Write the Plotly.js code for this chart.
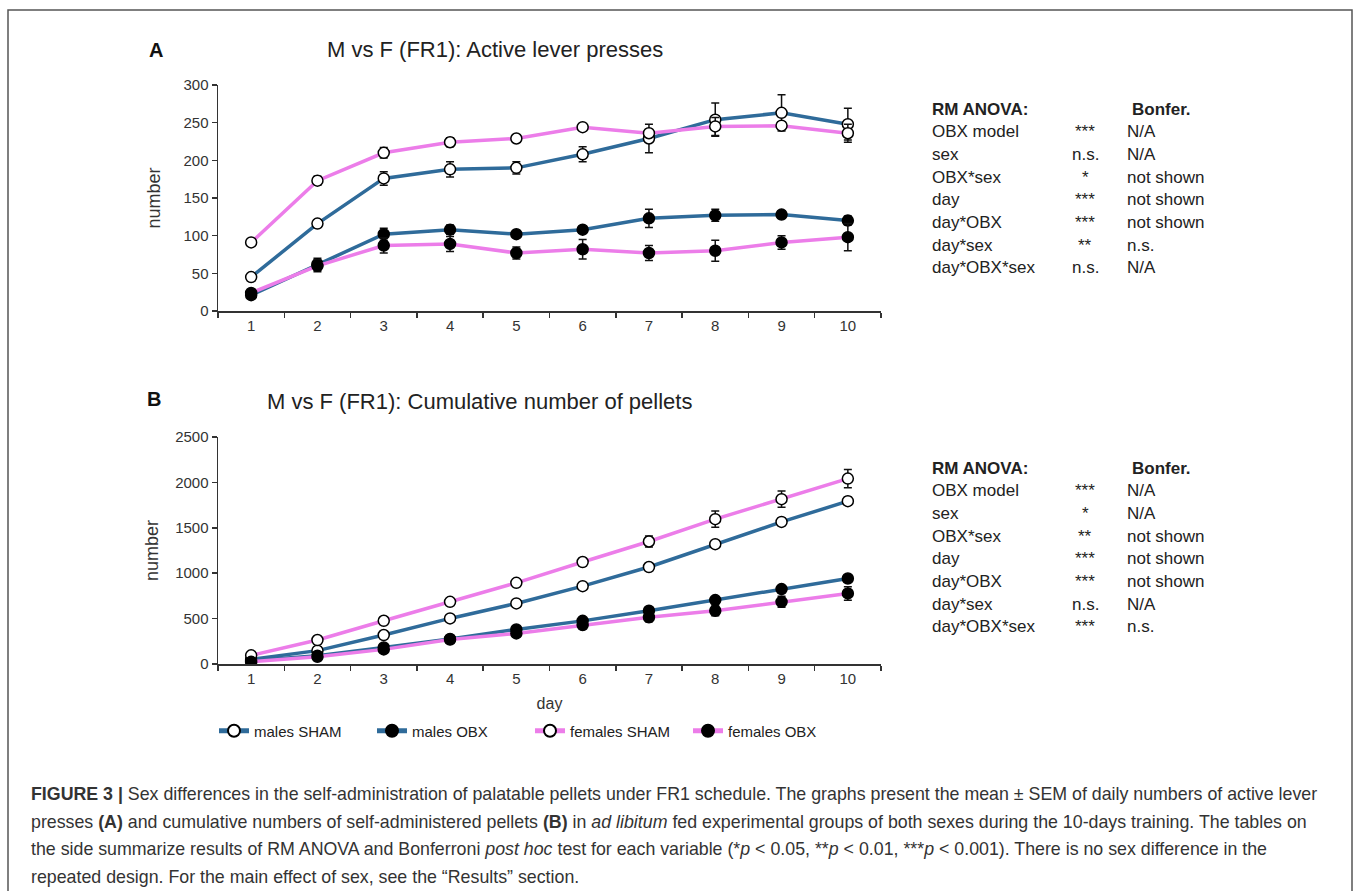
<!DOCTYPE html>
<html>
<head>
<meta charset="utf-8">
<script src="https://cdn.plot.ly/plotly-3.0.1.min.js"></script>
<style>
  html, body { margin: 0; padding: 0; background: #fff; }
  #chart { width: 1354px; height: 891px; }
</style>
</head>
<body>
<div id="chart"></div>
<script>
// ---- data ----
const days = ['1', '2', '3', '4', '5', '6', '7', '8', '9', '10'];
const seriesNames = ['males SHAM', 'males OBX', 'females SHAM', 'females OBX'];

// Panel A: active lever presses (mean, SEM)
const pressMalesSham      = [45, 116, 176, 188, 190, 208, 229, 254, 263, 248];
const pressMalesShamErr   = [3, 4, 9, 10, 8, 10, 19, 22, 24, 21];
const pressMalesObx       = [21, 62, 102, 108, 102, 108, 123, 127, 128, 120];
const pressMalesObxErr    = [3, 8, 8, 6, 4, 4, 12, 8, 5, 6];
const pressFemalesSham    = [91, 173, 210, 224, 229, 244, 236, 245, 246, 236];
const pressFemalesShamErr = [3, 6, 7, 6, 5, 3, 5, 12, 5, 12];
const pressFemalesObx     = [24, 60, 87, 89, 77, 82, 77, 80, 91, 98];
const pressFemalesObxErr  = [3, 8, 10, 10, 8, 13, 10, 14, 9, 18];

// Panel B: cumulative pellets (mean, SEM)
const pelMalesSham      = [50, 147, 319, 502, 667, 857, 1068, 1320, 1565, 1793];
const pelMalesShamErr   = [5, 8, 12, 15, 20, 25, 25, 25, 40, 45];
const pelMalesObx       = [35, 92, 183, 275, 381, 475, 586, 704, 825, 942];
const pelMalesObxErr    = [3, 8, 10, 12, 15, 15, 20, 20, 20, 25];
const pelFemalesSham    = [95, 264, 476, 685, 894, 1123, 1349, 1595, 1815, 2042];
const pelFemalesShamErr = [8, 15, 20, 20, 30, 40, 60, 90, 90, 100];
const pelFemalesObx     = [24, 80, 161, 270, 337, 429, 515, 586, 685, 777];
const pelFemalesObxErr  = [3, 8, 15, 20, 25, 30, 50, 55, 60, 75];

// Tables
const anovaRows   = ['OBX model', 'sex', 'OBX*sex', 'day', 'day*OBX', 'day*sex', 'day*OBX*sex'];
const anovaSigA   = ['***', 'n.s.', '*', '***', '***', '**', 'n.s.'];
const bonferA     = ['N/A', 'N/A', 'not shown', 'not shown', 'not shown', 'n.s.', 'N/A'];
const anovaSigB   = ['***', '*', '**', '***', '***', 'n.s.', '***'];
const bonferB     = ['N/A', 'N/A', 'not shown', 'not shown', 'not shown', 'N/A', 'n.s.'];

const captionLines = [
  '<b>FIGURE 3 |</b> Sex differences in the self-administration of palatable pellets under FR1 schedule. The graphs present the mean ± SEM of daily numbers of active lever',
  'presses <b>(A)</b> and cumulative numbers of self-administered pellets <b>(B)</b> in <i>ad libitum</i> fed experimental groups of both sexes during the 10-days training. The tables on',
  'the side summarize results of RM ANOVA and Bonferroni <i>post hoc</i> test for each variable (*<i>p</i> &lt; 0.05, **<i>p</i> &lt; 0.01, ***<i>p</i> &lt; 0.001). There is no sex difference in the',
  'repeated design. For the main effect of sex, see the “Results” section.'
];

// ---- styling ----
const W = 1354, H = 891;
const px = x => x / W;
const py = y => 1 - y / H;
const BLUE = '#2f6b9a';
const PINK = '#ec7de9';
const FONT = 'Liberation Sans, Arial, sans-serif';

const styles = [
  {color: BLUE, fill: '#ffffff'},
  {color: BLUE, fill: '#000000'},
  {color: PINK, fill: '#ffffff'},
  {color: PINK, fill: '#000000'}
];

function mk(y, err, i, xa, ya, showLegend) {
  return {
    x: days, y: y, xaxis: xa, yaxis: ya,
    type: 'scatter', mode: 'lines+markers',
    name: seriesNames[i], showlegend: showLegend,
    line: {color: styles[i].color, width: 3.5},
    marker: {symbol: 'circle', size: 11, color: styles[i].fill, line: {color: '#000', width: 1.5}},
    error_y: {type: 'data', array: err, visible: true, color: '#111', thickness: 1.5, width: 4}
  };
}

const data = [
  mk(pressMalesSham, pressMalesShamErr, 0, 'x', 'y', false),
  mk(pressMalesObx, pressMalesObxErr, 1, 'x', 'y', false),
  mk(pressFemalesSham, pressFemalesShamErr, 2, 'x', 'y', false),
  mk(pressFemalesObx, pressFemalesObxErr, 3, 'x', 'y', false),
  mk(pelMalesSham, pelMalesShamErr, 0, 'x2', 'y2', true),
  mk(pelMalesObx, pelMalesObxErr, 1, 'x2', 'y2', true),
  mk(pelFemalesSham, pelFemalesShamErr, 2, 'x2', 'y2', true),
  mk(pelFemalesObx, pelFemalesObxErr, 3, 'x2', 'y2', true)
];

const axisCommon = {
  showline: true, linecolor: '#333', linewidth: 1.5,
  ticks: 'outside', ticklen: 5, tickcolor: '#333', tickwidth: 1.5,
  showgrid: false, zeroline: false,
  tickfont: {family: FONT, size: 15, color: '#333'}
};

const xCommon = Object.assign({}, axisCommon, {
  type: 'category', tickson: 'boundaries', range: [-0.5, 9.5],
  domain: [px(218), px(881)]
});

const layout = {
  width: W, height: H,
  margin: {l: 0, r: 0, t: 0, b: 0},
  paper_bgcolor: '#fff', plot_bgcolor: '#fff',
  font: {family: FONT, color: '#222'},
  showlegend: true,
  legend: {
    orientation: 'h', x: px(214), y: py(731), xanchor: 'left', yanchor: 'middle',
    font: {family: FONT, size: 15, color: '#222'},
    entrywidth: 113, entrywidthmode: 'pixels', itemsizing: 'constant',
    bgcolor: 'rgba(0,0,0,0)', traceorder: 'normal'
  },
  xaxis: Object.assign({}, xCommon, {anchor: 'y'}),
  yaxis: Object.assign({}, axisCommon, {
    domain: [py(311), py(85)], range: [0, 300], dtick: 50, anchor: 'x',
    title: {text: 'number', font: {family: FONT, size: 18, color: '#333'}, standoff: 18}
  }),
  xaxis2: Object.assign({}, xCommon, {anchor: 'y2',
    title: {text: 'day', font: {family: FONT, size: 16, color: '#333'}, standoff: 12}
  }),
  yaxis2: Object.assign({}, axisCommon, {
    domain: [py(664), py(437)], range: [0, 2500], dtick: 500, anchor: 'x2',
    title: {text: 'number', font: {family: FONT, size: 18, color: '#333'}, standoff: 12}
  }),
  shapes: [
    {type: 'rect', xref: 'paper', yref: 'paper', x0: px(8), x1: px(1352), y0: -0.02, y1: py(10),
     line: {color: '#555', width: 1.5}, fillcolor: 'rgba(0,0,0,0)'}
  ],
  annotations: []
};

const ann = layout.annotations;
function txt(x, y, text, opts) {
  ann.push(Object.assign({
    xref: 'paper', yref: 'paper', x: px(x), y: py(y), text: text,
    showarrow: false, xanchor: 'left', yanchor: 'middle',
    font: {family: FONT, size: 17, color: '#222'}
  }, opts || {}));
}

// panel labels and titles
txt(147, 50, '<b>A</b>', {font: {family: FONT, size: 20, color: '#111'}});
txt(325, 50, 'M vs F (FR1): Active lever presses', {font: {family: FONT, size: 22, color: '#222'}});
txt(145, 399, '<b>B</b>', {font: {family: FONT, size: 20, color: '#111'}});
txt(265, 401, 'M vs F (FR1): Cumulative number of pellets', {font: {family: FONT, size: 22, color: '#222'}});

// tables
function table(yHeader, sig, bon) {
  txt(930, yHeader, '<b>RM ANOVA:</b>');
  txt(1130, yHeader, '<b>Bonfer.</b>');
  anovaRows.forEach((r, i) => {
    const yy = yHeader + 22.7 * (i + 1);
    txt(930, yy, r);
    txt(1085, yy, sig[i], {xanchor: 'center'});
    txt(1125, yy, bon[i]);
  });
}
table(109, anovaSigA, bonferA);
table(468, anovaSigB, bonferB);

// caption
captionLines.forEach((line, i) => {
  txt(29, 794 + 27.7 * i, line, {font: {family: FONT, size: 17.8, color: '#333'}});
});

Plotly.newPlot('chart', data, layout, {displayModeBar: false, staticPlot: true});
</script>
</body>
</html>
